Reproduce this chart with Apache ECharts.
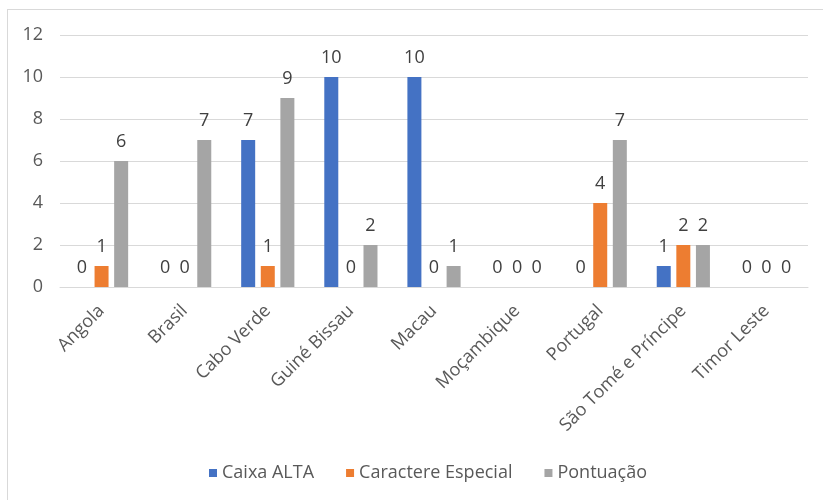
<!DOCTYPE html>
<html>
<head>
<meta charset="utf-8">
<script src="https://cdn.jsdelivr.net/npm/echarts@6/dist/echarts.min.js"></script>
<style>
  html, body { margin: 0; padding: 0; background: #fff; overflow: hidden; }
  #frame { position: absolute; left: 7px; top: 9px; width: 830px; height: 510px; border: 1px solid #d9d9d9; box-sizing: border-box; }
  #chart { width: 823px; height: 500px; position: absolute; left: 0; top: 0; }
</style>
</head>
<body>
<div id="frame"></div>
<div id="chart"></div>
<script>
// Categories and series values
const categories = ['Angola', 'Brasil', 'Cabo Verde', 'Guiné Bissau', 'Macau', 'Moçambique', 'Portugal', 'São Tomé e Príncipe', 'Timor Leste'];
const caixaAlta = [0, 0, 7, 10, 10, 0, 0, 1, 0];
const caractereEspecial = [1, 0, 1, 0, 0, 0, 4, 2, 0];
const pontuacao = [6, 7, 9, 2, 1, 0, 7, 2, 0];
const yTicks = [0, 2, 4, 6, 8, 10, 12];

const font = '"Open Sans", "Noto Sans", sans-serif';
const labelStyle = { show: true, position: 'top', color: '#404040', fontSize: 18, fontFamily: font, distance: 10 };

function bar(name, data, color) {
  return {
    name, type: 'bar', data,
    barWidth: 14, barGap: '40%', barCategoryGap: '36%',
    itemStyle: { color },
    label: labelStyle
  };
}

const chart = echarts.init(document.getElementById('chart'), null, { renderer: 'canvas' });
chart.setOption({
  animation: false,
  grid: { left: 60, right: 15, top: 35, bottom: 213, containLabel: false },
  legend: {
    top: 459, left: 204,
    itemWidth: 8, itemHeight: 8, itemGap: 32, icon: 'rect',
    textStyle: { color: '#595959', fontSize: 18, fontFamily: font }
  },
  xAxis: {
    type: 'category', data: categories,
    axisLine: { lineStyle: { color: '#d9d9d9' } },
    axisTick: { show: false },
    axisLabel: { rotate: 45, color: '#595959', fontSize: 18, fontFamily: font, interval: 0, margin: 21 }
  },
  yAxis: {
    type: 'value', min: yTicks[0], max: yTicks[yTicks.length - 1], interval: 2,
    axisLine: { show: false }, axisTick: { show: false },
    splitLine: { lineStyle: { color: '#d9d9d9' } },
    axisLabel: { color: '#595959', fontSize: 18, fontFamily: font, margin: 17 }
  },
  series: [
    bar('Caixa ALTA', caixaAlta, '#4472C4'),
    bar('Caractere Especial', caractereEspecial, '#ED7D31'),
    bar('Pontuação', pontuacao, '#A5A5A5')
  ]
});
</script>
</body>
</html>
